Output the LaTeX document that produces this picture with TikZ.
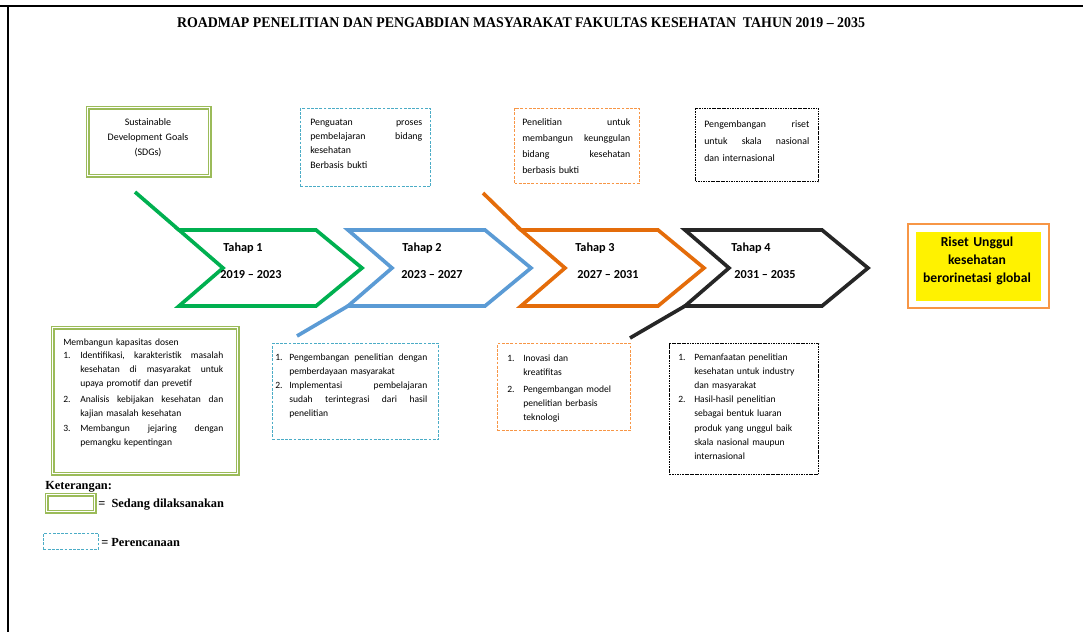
\documentclass[tikz,border=0pt]{standalone}
\usepackage{fontspec}
\setmainfont{Carlito}
\newfontfamily\judulfont[FakeStretch=0.94]{Liberation Serif}
\newfontfamily\ketfont{Liberation Serif}

\definecolor{hijau}{HTML}{00B050}
\definecolor{biru}{HTML}{5B9BD5}
\definecolor{oranye}{HTML}{E46C0A}
\definecolor{hitam}{HTML}{262626}
\definecolor{zaitun}{HTML}{9BBB59}
\definecolor{tosca}{HTML}{4BACC6}
\definecolor{jingga}{HTML}{F79646}

% one pixel of the 1083 x 632 page
\newlength\piksel
\setlength\piksel{0.7113pt}
\newlength\ind
\newlength\lebar
\newcommand\nomor[1]{\makebox[\ind][l]{#1}}
\newcommand\rata[1]{\leavevmode\hbox to \lebar{#1}}
\newcommand\ratai[1]{\leavevmode\hbox to \dimexpr\lebar-\ind\relax{#1}}
\newcommand\sj{\hspace*{\ind}}

\begin{document}
\begin{tikzpicture}[x=0.025cm, y=-0.025cm,
  chev/.style={line width=2.6pt},
  tahap/.style={anchor=base, inner sep=0pt, font=\bfseries\fontsize{8.7}{10}\selectfont},
  kotak/.style 2 args={anchor=north west, inner sep=0pt,
    minimum width=#1*\piksel, minimum height=#2*\piksel},
  sedang/.style={draw=zaitun, line width=1.1pt, double=white, double distance=0.9pt},
  rencana/.style={draw=tosca, line width=0.7pt, dash pattern=on 2pt off 1pt},
  rencanaor/.style={draw=jingga, line width=0.7pt, dash pattern=on 2pt off 1pt},
  rencanahi/.style={draw=black, line width=0.9pt, dash pattern=on 1.2pt off 0.6pt},
  teks/.style={anchor=base west, inner sep=0pt, align=left},
  ket/.style={anchor=base west, inner sep=0pt, font=\ketfont\bfseries\fontsize{8.8}{10}\selectfont},
]
\useasboundingbox (0,0) rectangle (1083,632);

% Page frame
\draw[line width=0.8pt] (0,6) -- (1083,6);
\draw[line width=2pt] (0,6) -- (16,6);
\draw[line width=2pt] (1056,6) -- (1083,6);
\draw[line width=0.8pt] (8,6) -- (8,632);

% Title
\node[anchor=base, inner sep=0pt] (judul) at (521,27)
  {\judulfont\bfseries\fontsize{10.5}{12}\selectfont
   ROADMAP PENELITIAN DAN PENGABDIAN MASYARAKAT FAKULTAS KESEHATAN\ \ TAHUN 2019 – 2035};

% Chevrons for the four stages
\foreach \x/\warna/\n/\tx/\yx/\thn in {179/hijau/1/243/251/2019 – 2023,
    348/biru/2/422/432/2023 – 2027, 521/oranye/3/595/608/2027 – 2031,
    685/hitam/4/751/765/2031 – 2035}{
  \draw[chev,\warna] (\x,230) -- ++(137,0) -- ++(46,38) -- ++(-46,38)
    -- ++(-137,0) -- ++(44,-38) -- cycle;
  \coordinate (tl\n) at (\x,230);
  \coordinate (bl\n) at (\x,306);
  \node[tahap] (tahap\n) at (\tx,251) {Tahap \n};
  \node[tahap] (thn\n) at (\yx,278) {\thn};
}

% Leader lines on the chevrons
\coordinate (ujung1) at (135,192);
\coordinate (ujung2) at (297,336);
\coordinate (ujung3) at (483,193);
\coordinate (ujung4) at (630,338);
\draw[chev,hijau] (ujung1) -- (tl1);
\draw[chev,biru] (ujung2) -- (bl2);
\draw[chev,oranye] (ujung3) -- (tl3);
\draw[chev,hitam] (ujung4) -- (bl4);

% Upper boxes
\node[kotak={122}{68}, sedang] (sdg) at (87,107) {};
\node[anchor=base, inner sep=0pt, align=center, text width=110*\piksel,
  font=\fontsize{7.1}{11}\selectfont] (sdgteks) at (148,125)
  {Sustainable\\Development Goals\\(SDGs)};

\node[kotak={130}{78}, rencana] (atas2) at (300,108) {};
\node[teks, text width=112*\piksel, font=\fontsize{7}{10.2}\selectfont] (atas2teks) at (310,125)
  {\setlength\lebar{112\piksel}%
   \rata{Penguatan\hfill proses}\\\rata{pembelajaran\hfill bidang}\\kesehatan\\Berbasis bukti};

\node[kotak={125}{75}, rencanaor] (atas3) at (514,108) {};
\node[teks, text width=108*\piksel, font=\fontsize{7}{11.6}\selectfont] (atas3teks) at (522,125)
  {\setlength\lebar{108\piksel}%
   \rata{Penelitian\hfill untuk}\\\rata{membangun\hfill keunggulan}\\
   \rata{bidang\hfill kesehatan}\\berbasis bukti};

\node[kotak={123}{73}, rencanahi] (atas4) at (695,108) {};
\node[teks, text width=105*\piksel, font=\fontsize{7}{12.4}\selectfont] (atas4teks) at (704,127)
  {\setlength\lebar{105\piksel}%
   \rata{Pengembangan\hfill riset}\\\rata{untuk\hfill skala\hfill nasional}\\dan internasional};

% Goal
\node[kotak={141}{84}, draw=jingga, line width=1.6pt] (tujuanbox) at (907,223) {};
\node[inner sep=0pt, fill=yellow, minimum width=125*\piksel, minimum height=69*\piksel]
  (tujuan) at (tujuanbox.center) {};
\node[anchor=base, inner sep=0pt, align=center, text width=120*\piksel,
  font=\bfseries\fontsize{9.7}{12.8}\selectfont] (tujuanteks) at (977,246)
  {Riset Unggul\\kesehatan\\berorinetasi global};

% Lower boxes
\node[kotak={185}{146}, sedang] (bawah1) at (52,327) {};
\node[teks, text width=160*\piksel, font=\fontsize{6.8}{9.9}\selectfont] (bawah1teks) at (63,345)
  {\setlength\lebar{160\piksel}\setlength\ind{17\piksel}%
   Membangun kapasitas dosen\\
   \nomor{1.}\ratai{Identifikasi,\hfill karakteristik\hfill masalah}\\
   \sj\ratai{kesehatan\hfill di\hfill masyarakat\hfill untuk}\\
   \sj upaya promotif dan prevetif\\[1.2pt]
   \nomor{2.}\ratai{Analisis\hfill kebijakan\hfill kesehatan\hfill dan}\\
   \sj kajian masalah kesehatan\\[1.2pt]
   \nomor{3.}\ratai{Membangun\hfill jejaring\hfill dengan}\\
   \sj pemangku kepentingan};

\node[kotak={166}{96}, rencana] (bawah2) at (272,343) {};
\node[teks, text width=152*\piksel, font=\fontsize{6.8}{10}\selectfont] (bawah2teks) at (275,360)
  {\setlength\lebar{152\piksel}\setlength\ind{14\piksel}%
   \nomor{1.}\ratai{Pengembangan\hfill penelitian\hfill dengan}\\
   \sj pemberdayaan masyarakat\\
   \nomor{2.}\ratai{Implementasi\hfill pembelajaran}\\
   \sj\ratai{sudah\hfill terintegrasi\hfill dari\hfill hasil}\\
   \sj penelitian};

\node[kotak={133}{87}, rencanaor] (bawah3) at (497,343) {};
\node[teks, text width=115*\piksel, font=\fontsize{6.8}{10.2}\selectfont] (bawah3teks) at (507,361)
  {\setlength\ind{16\piksel}\nomor{1.}Inovasi dan\\
   \sj kreatifitas\\[1.8pt]
   \nomor{2.}Pengembangan model\\
   \sj penelitian berbasis\\
   \sj teknologi};

\node[kotak={149}{131}, rencanahi] (bawah4) at (669,343) {};
\node[teks, text width=135*\piksel, font=\fontsize{6.8}{10.1}\selectfont] (bawah4teks) at (678,360)
  {\setlength\ind{16\piksel}\nomor{1.}Pemanfaatan penelitian\\
   \sj kesehatan untuk industry\\
   \sj dan masyarakat\\
   \nomor{2.}Hasil-hasil penelitian\\
   \sj sebagai bentuk luaran\\
   \sj produk yang unggul baik\\
   \sj skala nasional maupun\\
   \sj internasional};

% Legend
\node[ket] (keterangan) at (45,489) {Keterangan:};
\node[kotak={48}{17}, sedang] (lgsedang) at (46,494) {};
\node[ket] (lgsedangteks) at (98,507) {=\ \ Sedang dilaksanakan};
\node[kotak={55}{16}, rencana] (lgrencana) at (43,533) {};
\node[ket] (lgrencanateks) at (101,546) {= Perencanaan};

\end{tikzpicture}
\end{document}
